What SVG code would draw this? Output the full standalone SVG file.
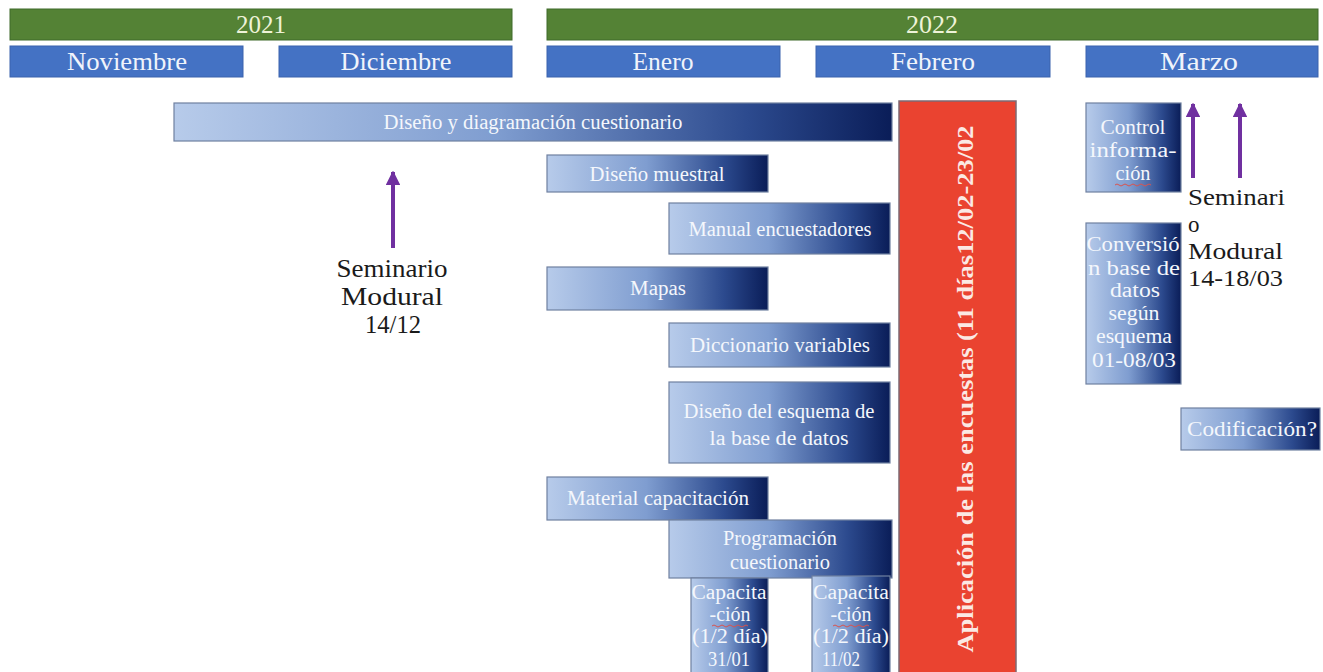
<svg xmlns="http://www.w3.org/2000/svg" width="1323" height="672" viewBox="0 0 1323 672">
<defs>
<linearGradient id="bg" x1="0" y1="0" x2="1" y2="0">
<stop offset="0" stop-color="#b7cbea"/>
<stop offset="0.45" stop-color="#7f9dd0"/>
<stop offset="0.8" stop-color="#2c4a8e"/>
<stop offset="1" stop-color="#0a1d58"/>
</linearGradient>
<marker id="ah" viewBox="0 0 10 10" refX="9" refY="5" markerWidth="3.6" markerHeight="3.6" orient="auto" markerUnits="strokeWidth">
<path d="M0,0 L10,5 L0,10 Z" fill="#7030a0"/>
</marker>
<style>
.yr{fill:#548235;stroke:#3f6a2a;stroke-width:1}
.mo{fill:#4472c4;stroke:#3a63ad;stroke-width:1}
.yt{font-family:"Liberation Serif",serif;font-size:25px;fill:#eef3d8;text-anchor:middle}
.mt{font-family:"Liberation Serif",serif;font-size:26px;fill:#f0f4fb;text-anchor:middle}
.bx{fill:url(#bg);stroke:#6f80a0;stroke-width:1.2}
.bt{font-family:"Liberation Serif",serif;font-size:20.5px;fill:#f4f7fc;text-anchor:middle}
.st{font-family:"Liberation Serif",serif;font-size:26px;fill:#1a1a1a}
.sr{font-family:"Liberation Serif",serif;font-size:23px;fill:#1a1a1a}
.arr{stroke:#7030a0;stroke-width:4;fill:none}
.sq{stroke:#d9534f;stroke-width:1;fill:none}
</style>
</defs>
<rect width="1323" height="672" fill="#ffffff"/>

<g id="year-2021"><rect class="yr" x="10" y="9" width="502" height="31"/><text class="yt" x="261" y="33" textLength="50" lengthAdjust="spacingAndGlyphs">2021</text></g>
<g id="year-2022"><rect class="yr" x="547" y="9" width="771" height="31"/><text class="yt" x="932" y="33" textLength="52" lengthAdjust="spacingAndGlyphs">2022</text></g>
<g id="m-nov"><rect class="mo" x="10" y="46" width="233" height="31"/><text class="mt" x="127" y="70" textLength="120" lengthAdjust="spacingAndGlyphs">Noviembre</text></g>
<g id="m-dic"><rect class="mo" x="279" y="46" width="233" height="31"/><text class="mt" x="396" y="70" textLength="111" lengthAdjust="spacingAndGlyphs">Diciembre</text></g>
<g id="m-ene"><rect class="mo" x="547" y="46" width="233" height="31"/><text class="mt" x="663" y="70" textLength="61" lengthAdjust="spacingAndGlyphs">Enero</text></g>
<g id="m-feb"><rect class="mo" x="816" y="46" width="234" height="31"/><text class="mt" x="933" y="70" textLength="84" lengthAdjust="spacingAndGlyphs">Febrero</text></g>
<g id="m-mar"><rect class="mo" x="1086" y="46" width="232" height="31"/><text class="mt" x="1199" y="70" textLength="78" lengthAdjust="spacingAndGlyphs">Marzo</text></g>

<g id="diseno-diagramacion"><rect class="bx" x="174" y="103" width="718" height="38"/><text class="bt" x="533" y="129" textLength="299" lengthAdjust="spacingAndGlyphs">Diseño y diagramación cuestionario</text></g>
<g id="diseno-muestral"><rect class="bx" x="547" y="155" width="221" height="37"/><text class="bt" x="657" y="181" textLength="135" lengthAdjust="spacingAndGlyphs">Diseño muestral</text></g>
<g id="manual"><rect class="bx" x="669" y="203" width="221" height="51"/><text class="bt" x="780" y="236" textLength="183" lengthAdjust="spacingAndGlyphs">Manual encuestadores</text></g>
<g id="mapas"><rect class="bx" x="547" y="267" width="221" height="43"/><text class="bt" x="658" y="295" textLength="56" lengthAdjust="spacingAndGlyphs">Mapas</text></g>
<g id="diccionario"><rect class="bx" x="669" y="323" width="221" height="44"/><text class="bt" x="780" y="352" textLength="180" lengthAdjust="spacingAndGlyphs">Diccionario variables</text></g>
<g id="esquema"><rect class="bx" x="669" y="382" width="221" height="81"/><text class="bt" x="779" y="418" textLength="191" lengthAdjust="spacingAndGlyphs">Diseño del esquema de</text><text class="bt" x="779" y="445" textLength="139" lengthAdjust="spacingAndGlyphs">la base de datos</text></g>
<g id="material"><rect class="bx" x="547" y="477" width="221" height="43"/><text class="bt" x="658" y="505" textLength="182" lengthAdjust="spacingAndGlyphs">Material capacitación</text></g>
<g id="programacion"><rect class="bx" x="669" y="520" width="223" height="58"/><text class="bt" x="780" y="545" textLength="114" lengthAdjust="spacingAndGlyphs">Programación</text><text class="bt" x="780" y="569" textLength="100" lengthAdjust="spacingAndGlyphs">cuestionario</text></g>
<g id="capacitacion-1"><rect class="bx" x="691" y="578" width="77" height="100"/><text class="bt" x="729" y="599" textLength="75" lengthAdjust="spacingAndGlyphs">Capacita</text><text class="bt" x="730" y="621" textLength="41" lengthAdjust="spacingAndGlyphs">-ción</text><path class="sq" d="M712,626 q2,-2 4,0 t4,0 t4,0 t4,0 t4,0 t4,0 t4,0 t4,0 t4,0"/><text class="bt" x="730" y="643" textLength="76" lengthAdjust="spacingAndGlyphs">(1/2 día)</text><text class="bt" x="729" y="666" textLength="42" lengthAdjust="spacingAndGlyphs">31/01</text></g>
<g id="capacitacion-2"><rect class="bx" x="812" y="576" width="78" height="102"/><text class="bt" x="851" y="599" textLength="76" lengthAdjust="spacingAndGlyphs">Capacita</text><text class="bt" x="851" y="621" textLength="41" lengthAdjust="spacingAndGlyphs">-ción</text><path class="sq" d="M833,626 q2,-2 4,0 t4,0 t4,0 t4,0 t4,0 t4,0 t4,0 t4,0 t4,0"/><text class="bt" x="851" y="643" textLength="76" lengthAdjust="spacingAndGlyphs">(1/2 día)</text><text class="bt" x="841" y="666" textLength="38" lengthAdjust="spacingAndGlyphs">11/02</text></g>

<g id="aplicacion"><rect x="899" y="101" width="117" height="580" fill="#ea4330" stroke="#7d6a73" stroke-width="1.5"/><text transform="translate(973,389) rotate(-90)" font-family="Liberation Serif, serif" font-size="24" font-weight="bold" fill="#fbe9e4" text-anchor="middle" textLength="527" lengthAdjust="spacingAndGlyphs">Aplicación de las encuestas (11 días12/02-23/02</text></g>

<g id="control"><rect class="bx" x="1086" y="103" width="95" height="89"/><text class="bt" x="1133" y="134" textLength="65" lengthAdjust="spacingAndGlyphs">Control</text><text class="bt" x="1133" y="157" textLength="87" lengthAdjust="spacingAndGlyphs">informa-</text><text class="bt" x="1133" y="180" textLength="35" lengthAdjust="spacingAndGlyphs">ción</text><path class="sq" d="M1115,185 q2,-2 4,0 t4,0 t4,0 t4,0 t4,0 t4,0 t4,0 t4,0 t4,0"/></g>
<g id="conversion"><rect class="bx" x="1086" y="223" width="95" height="161"/><text class="bt" x="1133" y="251" textLength="93" lengthAdjust="spacingAndGlyphs">Conversió</text><text class="bt" x="1134" y="275" textLength="92" lengthAdjust="spacingAndGlyphs">n base de</text><text class="bt" x="1135" y="297" textLength="50" lengthAdjust="spacingAndGlyphs">datos</text><text class="bt" x="1134" y="320" textLength="51" lengthAdjust="spacingAndGlyphs">según</text><text class="bt" x="1134" y="343" textLength="76" lengthAdjust="spacingAndGlyphs">esquema</text><text class="bt" x="1134" y="367" textLength="84" lengthAdjust="spacingAndGlyphs">01-08/03</text></g>
<g id="codificacion"><rect class="bx" x="1181" y="408" width="139" height="42"/><text class="bt" x="1252" y="436" textLength="130" lengthAdjust="spacingAndGlyphs">Codificación?</text></g>

<g id="seminario-dic"><text class="st" x="392" y="277" text-anchor="middle" textLength="111" lengthAdjust="spacingAndGlyphs">Seminario</text><text class="st" x="392" y="305" text-anchor="middle" textLength="102" lengthAdjust="spacingAndGlyphs">Modural</text><text class="st" x="393" y="333" text-anchor="middle" textLength="56" lengthAdjust="spacingAndGlyphs">14/12</text></g>
<g id="seminario-mar"><text class="sr" x="1188" y="205" textLength="97" lengthAdjust="spacingAndGlyphs">Seminari</text><text class="sr" x="1188" y="232">o</text><text class="sr" x="1188" y="259" textLength="95" lengthAdjust="spacingAndGlyphs">Modural</text><text class="sr" x="1188" y="286" textLength="95" lengthAdjust="spacingAndGlyphs">14-18/03</text></g>

<g id="connectors">
<line class="arr" x1="393" y1="248" x2="393" y2="172" marker-end="url(#ah)"/>
<line class="arr" x1="1193" y1="178" x2="1193" y2="104" marker-end="url(#ah)"/>
<line class="arr" x1="1240" y1="178" x2="1240" y2="104" marker-end="url(#ah)"/>
</g>
</svg>
